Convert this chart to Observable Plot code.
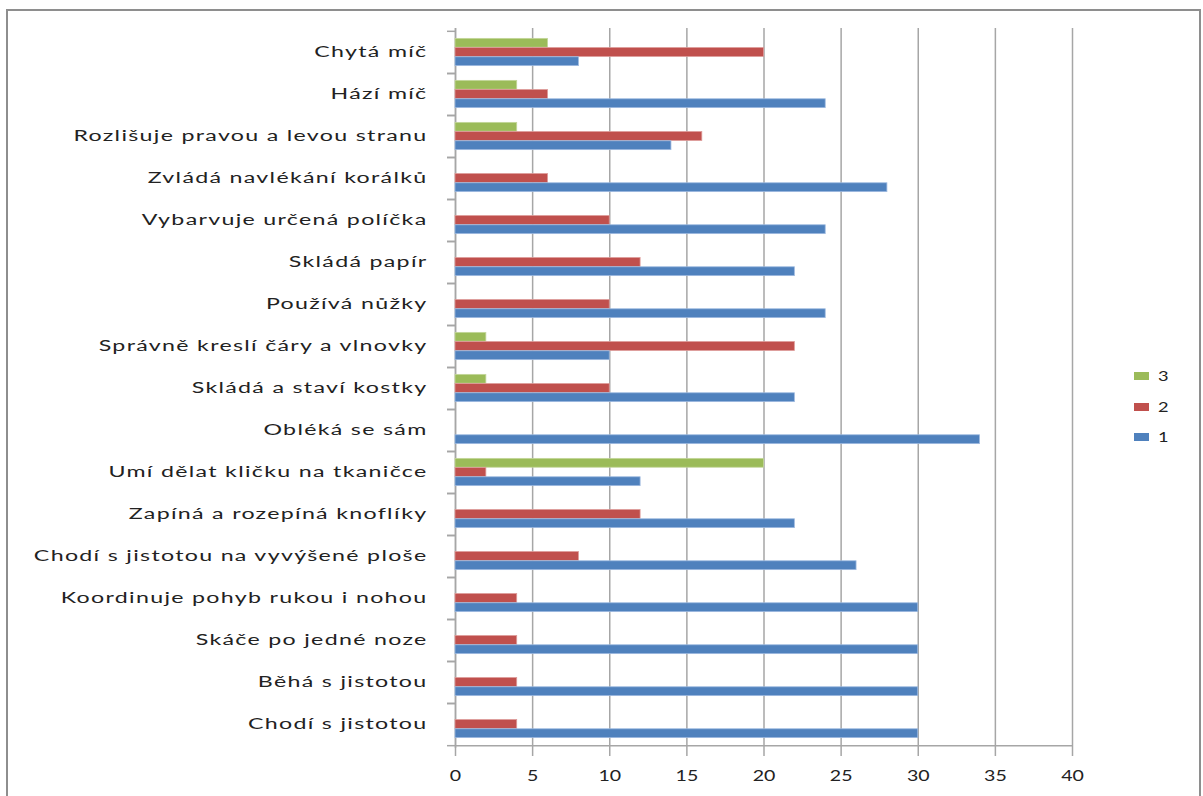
<!DOCTYPE html>
<html>
<head>
<meta charset="utf-8">
<script src="https://cdn.jsdelivr.net/npm/d3@7"></script>
<script src="https://cdn.jsdelivr.net/npm/@observablehq/plot@0.6"></script>
<style>
  html, body { margin: 0; padding: 0; background: #fff; overflow: hidden; }
  #wrap { position: relative; width: 1203px; height: 796px; font-family: Lato, "Open Sans", sans-serif; }
  #border { position: absolute; left: 6px; top: 9px; width: 1195px; height: 820px;
            border: 2px solid #8e8e8e; border-bottom: none; box-sizing: border-box; }
  #chart { position: absolute; left: 0; top: 0; }
  #legend { position: absolute; left: 1134px; top: 361px; color: #222; font-size: 13px; }
  #legend .row { height: 30.5px; display: flex; align-items: center; }
  #legend .sw { display: inline-block; width: 15px; height: 8px; margin-right: 9px; }
  #legend .lab { display: inline-block; transform: scaleX(1.4); transform-origin: left center; }
</style>
</head>
<body>
<div id="wrap">
  <div id="border"></div>
  <div id="chart"></div>
  <div id="legend"></div>
</div>
<script>
// Skills, listed from top to bottom
const categories = [
  "Chytá míč",
  "Hází míč",
  "Rozlišuje pravou a levou stranu",
  "Zvládá navlékání korálků",
  "Vybarvuje určená políčka",
  "Skládá papír",
  "Používá nůžky",
  "Správně kreslí čáry a vlnovky",
  "Skládá a staví kostky",
  "Obléká se sám",
  "Umí dělat kličku na tkaničce",
  "Zapíná a rozepíná knoflíky",
  "Chodí s jistotou na vyvýšené ploše",
  "Koordinuje pohyb rukou i nohou",
  "Skáče po jedné noze",
  "Běhá s jistotou",
  "Chodí s jistotou"
];

// Counts per rating, same order as categories
const values1 = [8, 24, 14, 28, 24, 22, 24, 10, 22, 34, 12, 22, 26, 30, 30, 30, 30];
const values2 = [20, 6, 16, 6, 10, 12, 10, 22, 10, 0, 2, 12, 8, 4, 4, 4, 4];
const values3 = [6, 4, 4, 0, 0, 0, 0, 2, 2, 0, 20, 0, 0, 0, 0, 0, 0];

// Series in legend / in-group order (top to bottom)
const seriesNames = ["3", "2", "1"];
const seriesColors = ["#9BBB59", "#C0504D", "#4F81BD"];
const seriesEdges = ["#c3d69b", "#dc9a98", "#9db9df"];

const xTicks = [0, 5, 10, 15, 20, 25, 30, 35, 40];

const valuesBySeries = { "1": values1, "2": values2, "3": values3 };
const rows = seriesNames.flatMap(s =>
  categories.map((c, i) => ({ category: c, series: s, value: valuesBySeries[s][i] }))
);

const width = 1203, height = 796;
const marginTop = 28, marginBottom = 48, marginLeft = 455, marginRight = 131;
const step = (height - marginTop - marginBottom) / categories.length;
const barH = 9.2;
const inset = (step - barH) / 2;
const offsets = { "3": -barH, "2": 0, "1": barH };
const gray = "#a6a6a6";

const svg = Plot.plot({
  width, height, marginTop, marginBottom, marginLeft, marginRight,
  style: { fontFamily: "Lato, 'Open Sans', sans-serif", color: "#222", background: "transparent" },
  x: { domain: [0, 40] },
  y: { domain: categories, padding: 0 },
  marks: [
    Plot.gridX(xTicks, { stroke: gray, strokeOpacity: 1, strokeWidth: 1.5 }),
    Plot.ruleX([0], { stroke: gray, strokeWidth: 1.5 }),
    ...seriesNames.map((s, k) =>
      Plot.barX(rows, {
        filter: d => d.series === s && d.value > 0,
        x: "value",
        y: "category",
        fill: seriesColors[k],
        stroke: seriesEdges[k],
        strokeWidth: 0.8,
        insetTop: inset,
        insetBottom: inset,
        dy: offsets[s]
      })
    ),
    Plot.axisY({ tickSize: 0, tickPadding: 28, fontSize: 16, label: null, dy: -1 }),
    Plot.axisY({ tickSize: 8, tickFormat: () => "", label: null, dy: -step / 2, stroke: gray, strokeWidth: 1.5 }),
    Plot.axisY({ tickSize: 8, tickFormat: () => "", label: null, dy: step / 2, stroke: gray, strokeWidth: 1.5 }),
    Plot.ruleY([categories[categories.length - 1]], { dy: step / 2, stroke: gray, strokeWidth: 1.5 }),
    Plot.axisX({ ticks: xTicks, tickSize: 8, tickPadding: 14, fontSize: 14.5, label: null, stroke: gray, strokeWidth: 1.5 })
  ]
});

// Widen the tick labels horizontally around their anchor points
svg.querySelectorAll('g[aria-label="y-axis tick label"] text').forEach(t => {
  const tr = t.getAttribute("transform") || "";
  t.setAttribute("transform", `${tr} scale(1.45,1)`);
  t.setAttribute("letter-spacing", "0.9");
});
svg.querySelectorAll('g[aria-label="x-axis tick label"] text').forEach(t => {
  const tr = t.getAttribute("transform") || "";
  t.setAttribute("transform", `${tr} scale(1.35,1)`);
});

document.getElementById("chart").appendChild(svg);

// Legend on the right
const legend = document.getElementById("legend");
seriesNames.forEach((s, k) => {
  const row = document.createElement("div");
  row.className = "row";
  row.innerHTML = `<span class="sw" style="background:${seriesColors[k]}"></span><span class="lab">${s}</span>`;
  legend.appendChild(row);
});
</script>
</body>
</html>
